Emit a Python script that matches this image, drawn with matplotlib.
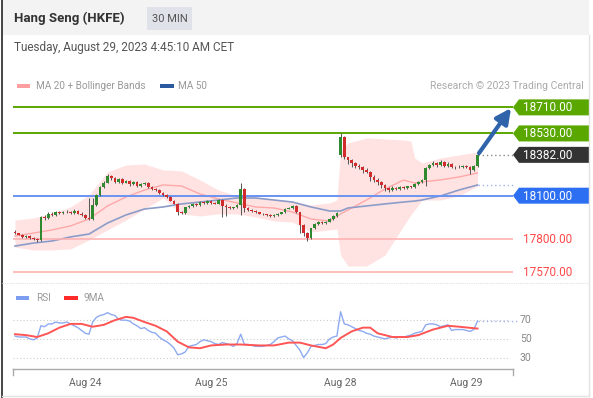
import numpy as np
import matplotlib.pyplot as plt
from matplotlib.patches import Polygon, Rectangle

plt.rcParams['font.family'] = ['Roboto', 'DejaVu Sans']

W, H = 593, 398

# 30 min candles, Hang Seng futures, Aug 23 - Aug 29 2023
opens = [
    17850, 17840, 17830, 17815, 17820, 17810, 17800, 17795, 17955, 17945,
    17975, 17965, 17985, 17980, 17985, 17990, 17980, 17995, 17975, 17965,
    17945, 17940, 18035, 18105, 18160, 18190, 18235, 18220, 18195, 18215,
    18190, 18200, 18180, 18195, 18165, 18180, 18190, 18160, 18145, 18140,
    18120, 18105, 18090, 18065, 18045, 17985, 17980, 18020, 18030, 18045,
    18035, 18055, 18050, 18065, 18050, 18045, 18070, 18030, 18025, 18015,
    18020, 18035, 18145, 18015, 18000, 17995, 17985, 17975, 17970, 17965,
    17960, 17965, 17975, 17985, 18010, 18015, 18030, 17985, 17900, 17840,
    17810, 17875, 17905, 17920, 17910, 17920, 17940, 17960, 18380, 18505,
    18365, 18345, 18325, 18305, 18300, 18280, 18265, 18230, 18210, 18195,
    18175, 18155, 18140, 18155, 18145, 18160, 18150, 18165, 18160, 18180,
    18195, 18210, 18290, 18310, 18325, 18310, 18335, 18305, 18320, 18300,
    18295, 18300, 18305, 18300, 18280, 18305]
highs = [
    17860, 17845, 17835, 17830, 17825, 17815, 17810, 17960, 17965, 17985,
    17985, 17995, 17995, 17995, 18000, 17995, 18005, 18000, 17985, 17975,
    18085, 18085, 18115, 18170, 18200, 18250, 18245, 18230, 18225, 18225,
    18210, 18205, 18200, 18200, 18185, 18195, 18195, 18165, 18155, 18145,
    18125, 18110, 18095, 18070, 18050, 17995, 18025, 18035, 18050, 18050,
    18060, 18060, 18070, 18070, 18055, 18075, 18075, 18040, 18030, 18025,
    18040, 18190, 18150, 18020, 18005, 18000, 17990, 17980, 17975, 17970,
    17970, 17980, 17990, 18015, 18020, 18035, 18035, 17990, 17905, 17850,
    17880, 17910, 17925, 17925, 17925, 17945, 17965, 17985, 18535, 18510,
    18370, 18350, 18330, 18320, 18305, 18290, 18270, 18240, 18220, 18200,
    18180, 18160, 18165, 18160, 18170, 18165, 18170, 18170, 18185, 18200,
    18215, 18300, 18320, 18340, 18330, 18345, 18340, 18330, 18325, 18305,
    18310, 18310, 18310, 18305, 18310, 18390]
lows = [
    17835, 17825, 17810, 17810, 17800, 17795, 17780, 17790, 17935, 17940,
    17960, 17960, 17975, 17975, 17980, 17975, 17975, 17970, 17960, 17940,
    17930, 17935, 18030, 18095, 18150, 18185, 18210, 18185, 18190, 18180,
    18185, 18170, 18175, 18160, 18160, 18175, 18155, 18140, 18135, 18115,
    18100, 18085, 18060, 18040, 17965, 17970, 17975, 18015, 18025, 18030,
    18030, 18045, 18045, 18045, 18040, 18040, 17955, 17960, 18005, 18010,
    18015, 17965, 17990, 17995, 17990, 17980, 17970, 17965, 17960, 17955,
    17955, 17960, 17970, 17980, 18005, 18010, 17980, 17840, 17820, 17785,
    17800, 17870, 17895, 17905, 17905, 17915, 17935, 17955, 18370, 18350,
    18320, 18300, 18290, 18285, 18260, 18255, 18200, 18195, 18175, 18150,
    18135, 18125, 18135, 18140, 18140, 18145, 18145, 18150, 18155, 18175,
    18190, 18165, 18285, 18305, 18300, 18305, 18295, 18300, 18290, 18285,
    18290, 18290, 18290, 18250, 18270, 18300]
closes = [
    17840, 17830, 17815, 17820, 17810, 17800, 17795, 17955, 17945, 17975,
    17965, 17985, 17980, 17985, 17990, 17980, 17995, 17975, 17965, 17945,
    17940, 18035, 18105, 18160, 18190, 18235, 18220, 18195, 18215, 18190,
    18200, 18180, 18195, 18165, 18180, 18190, 18160, 18145, 18140, 18120,
    18105, 18090, 18065, 18045, 17985, 17980, 18020, 18030, 18045, 18035,
    18055, 18050, 18065, 18050, 18045, 18070, 18030, 18025, 18015, 18020,
    18035, 18145, 18015, 18000, 17995, 17985, 17975, 17970, 17965, 17960,
    17965, 17975, 17985, 18010, 18015, 18030, 17985, 17900, 17840, 17810,
    17875, 17905, 17920, 17910, 17920, 17940, 17960, 17980, 18505, 18365,
    18345, 18325, 18305, 18300, 18280, 18265, 18230, 18210, 18195, 18175,
    18155, 18140, 18155, 18145, 18160, 18150, 18165, 18160, 18180, 18195,
    18210, 18290, 18310, 18325, 18310, 18335, 18305, 18320, 18300, 18295,
    18300, 18305, 18300, 18280, 18305, 18382]

day_idx = [19, 53, 88, 122]
day_labels = ['Aug 24', 'Aug 25', 'Aug 28', 'Aug 29']

# moving averages (candle index -> value)
ma_idx = [0, 5, 10, 15, 20, 25, 30, 35, 40, 45, 50, 55, 60, 65, 70, 75, 80, 85,
          88, 90, 95, 100, 105, 108, 110, 115, 120, 125]
ma20 = [17821, 17842, 17863, 17891, 17939, 18029, 18091, 18139, 18174, 18167,
        18112, 18077, 18050, 18022, 18015, 17987, 17939, 17925, 17974, 18001,
        18070, 18146, 18208, 18188, 18195, 18209, 18229, 18257]
ma50 = [17752, 17773, 17787, 17815, 17835, 17911, 17967, 18008, 18022, 18043,
        18056, 18070, 18084, 18084, 18070, 18056, 18022, 17994, 17994, 18015,
        18029, 18043, 18056, 18063, 18070, 18098, 18139, 18174]

bb_idx = [0, 5, 10, 15, 20, 25, 30, 35, 40, 45, 50, 55, 60, 65, 70, 75, 80, 85,
          87, 88, 90, 95, 100, 105, 107, 108, 110, 115, 120, 125]
bb_upper = [17932, 17946, 17980, 18022, 18105, 18264, 18312, 18319, 18278, 18271,
            18209, 18139, 18098, 18091, 18077, 18063, 18036, 18050, 18070, 18416,
            18464, 18499, 18492, 18485, 18478, 18361, 18326, 18361, 18381, 18402]
bb_lower = [17745, 17725, 17725, 17732, 17794, 17863, 17932, 18008, 18084, 17974,
            17960, 17974, 17974, 17953, 17925, 17918, 17849, 17863, 17870, 17690,
            17614, 17614, 17690, 17891, 17967, 18001, 18070, 18070, 18098, 18167]

rsi = [53, 52, 52, 52, 50, 49, 51, 64, 63, 66,
       66, 68, 67, 67, 68, 66, 64, 62, 59, 56,
       55, 68, 73, 75, 76, 78, 76, 75, 71, 70,
       70, 69, 66, 64, 61, 62, 59, 57, 56, 52,
       49, 47, 44, 40, 33, 34, 36, 42, 43, 44,
       47, 49, 48, 47, 45, 44, 46, 45, 44, 42,
       45, 55, 44, 44, 43, 42, 42, 42, 43, 44,
       47, 51, 52, 53, 50, 48, 43, 38, 30, 35,
       42, 43, 44, 44, 45, 50, 52, 53, 79, 66,
       65, 63, 61, 59, 58, 56, 55, 53, 52, 51,
       50, 51, 52, 51, 52, 52, 53, 54, 56, 57,
       58, 65, 66, 66, 65, 63, 64, 65, 59, 60,
       60, 60, 59, 58, 60, 69]
rsi_ma_idx = [0, 3, 6, 9, 12, 15, 18, 21, 24, 27, 30, 32, 35, 38, 41, 44, 47, 50,
              53, 57, 61, 66, 70, 74, 77, 80, 84, 86, 88, 91, 94, 96, 98, 102,
              106, 109, 113, 117, 120, 125]
rsi_ma = [55, 54, 52, 56, 62, 66, 66, 63, 65, 70, 73.5, 72.5, 68, 64, 58, 47, 41,
          40, 43, 44, 44, 43, 43, 46, 46, 43, 40, 44, 51, 58, 62, 62, 56, 52, 52,
          54, 60, 64, 63, 61]
rsi_levels = [30, 50, 70]

resistances = [18710, 18530]
pivot = 18100
supports = [17800, 17570]
last_price = closes[-1]
target = 18710

GREEN = '#5aa700'


def px2i(px):
    # pixel column -> candle index
    return (px - 15) / 3.7


def box(top, bottom):
    return [13 / W, 1 - bottom / H, (W - 13) / W, (bottom - top) / H]


fig = plt.figure(figsize=(W / 100, H / 100), dpi=100)
bg = fig.add_axes([0, 0, 1, 1])
bg.set_xlim(0, W)
bg.set_ylim(H, 0)
bg.axis('off')

# header
bg.add_patch(Rectangle((2, 0), 587, 35, color='#f3f3f3', lw=0))
bg.text(14, 18, 'Hang Seng (HKFE)', fontsize=9.5, fontweight='bold', color='#333', va='center')
bg.add_patch(Rectangle((147, 7), 45, 23, color='#dfe2e8', lw=0))
bg.text(169.5, 18.5, '30 MIN', fontsize=8, color='#555', ha='center', va='center')
bg.text(14, 48, 'Tuesday, August 29, 2023 4:45:10 AM CET', fontsize=8.5, color='#555', va='center')

# legend
bg.add_patch(Rectangle((17, 84), 13, 4, color='#ff9e9e', lw=0))
bg.text(36, 86, 'MA 20 + Bollinger Bands', fontsize=7.2, color='#999', va='center')
bg.add_patch(Rectangle((160, 84), 14, 4, color='#2c5aa0', lw=0))
bg.text(178, 86, 'MA 50', fontsize=7.2, color='#999', va='center')
bg.text(584, 86, 'Research \u00a9 2023 Trading Central', fontsize=7.5, color='#aaa',
        ha='right', va='center')

# frame
bg.plot([1.5, 1.5], [0, H], color='#444', lw=1.4)
bg.plot([2, 589], [396, 396], color='#e3e3e3', lw=1)
bg.plot([589, 589], [35, 396], color='#e3e3e3', lw=1)
bg.plot([2, 589], [283, 283], color='#e3e3e3', lw=0.8, ls=(0, (1, 1)))

# price panel
ax = fig.add_axes(box(90, 285))
ax.set_xlim(px2i(13), px2i(593))
ax.set_ylim(17483, 18830)
ax.axis('off')

x = np.arange(len(closes))
o = np.array(opens)
c = np.array(closes)

ax.fill_between(bb_idx, bb_lower, bb_upper, color='#ffe3e3', lw=0, zorder=1)
ax.plot(ma_idx, ma20, color='#ffa8a8', lw=1, zorder=2)
ax.plot(ma_idx, ma50, color='#8c9cc8', lw=1.2, zorder=2)

x0, x1 = px2i(13), px2i(513)
ax.hlines(resistances, x0, x1, colors=GREEN, lw=1.4, zorder=3)
ax.hlines(pivot, x0, x1, colors='#6b93f2', lw=1.4, zorder=3)
ax.hlines(supports, x0, x1, colors='#ffb3b3', lw=1.2, zorder=3)

ax.vlines(x, lows, highs, colors='#555', lw=0.7, zorder=4)
ax.bar(x, np.maximum(np.abs(c - o), 4), bottom=np.minimum(o, c), width=0.72,
       color=np.where(c >= o, '#2f8a2f', '#d22b2b'), zorder=5)

ax.hlines(last_price, px2i(478), x1, colors='#888', linestyles=(0, (1, 2)), lw=1)
ax.hlines(ma50[-1], px2i(478), x1, colors='#9db4ea', linestyles=(0, (1, 2)), lw=1)

ax.annotate('', xy=(px2i(511), target - 5), xytext=(px2i(479), last_price + 12),
            arrowprops=dict(arrowstyle='-|>,head_width=0.45,head_length=0.9',
                            color='#2f63aa', lw=3, shrinkA=0, shrinkB=0), zorder=6)


def price_px(p):
    return H - ax.transData.transform((0, p))[1]


tags = [(18710, GREEN), (18530, GREEN), (last_price, '#333333'), (pivot, '#2d6ff2')]
for val, col in tags:
    y = price_px(val)
    bg.add_patch(Polygon([(513, y), (519, y - 8), (589, y - 8), (589, y + 8), (519, y + 8)],
                         closed=True, color=col, lw=0))
    bg.text(523, y + 0.5, f'{val:.2f}', fontsize=8.5, color='white', va='center')
for val in supports:
    bg.text(523, price_px(val) + 0.5, f'{val:.2f}', fontsize=8.5, color='#ff4a4a', va='center')

# RSI panel
rx = fig.add_axes(box(305, 369.3))
rx.set_xlim(px2i(13), px2i(593))
rx.set_ylim(17.5, 86.2)
rx.axis('off')

rx.hlines(rsi_levels, px2i(13), px2i(510), colors='#cccccc', linestyles=(0, (1, 2)), lw=0.8)
rx.plot(x, rsi, color='#8eaaf0', lw=1)
rx.plot(rsi_ma_idx, rsi_ma, color='#ff5555', lw=1.4)
rx.hlines(rsi[-1], x[-1], px2i(518), colors='#9db4ea', linestyles=(0, (1, 2)), lw=1)
for v in rsi_levels:
    rx.text(px2i(520), v, str(v), fontsize=7.5, color='#888', va='center')

bg.plot([13, 513], [369.3, 369.3], color='#aaa', lw=1)
bg.plot([13, 13], [369.3, 375], color='#aaa', lw=1)
bg.plot([513, 513], [369.3, 375], color='#aaa', lw=1)
for d, lab in zip(day_idx, day_labels):
    rx.annotate(lab, xy=(d, 17.5), xytext=(0, -13.5), textcoords='offset pixels',
                ha='center', va='center', fontsize=7.5, color='#666')

bg.add_patch(Rectangle((16, 296), 13, 4, color='#7d9ef0', lw=0))
bg.text(36, 298, 'RSI', fontsize=7.2, color='#999', va='center')
bg.add_patch(Rectangle((64, 296), 14, 4, color='#ff2b2b', lw=0))
bg.text(84, 298, '9MA', fontsize=7.2, color='#999', va='center')

fig.savefig('out.png', dpi=100)
